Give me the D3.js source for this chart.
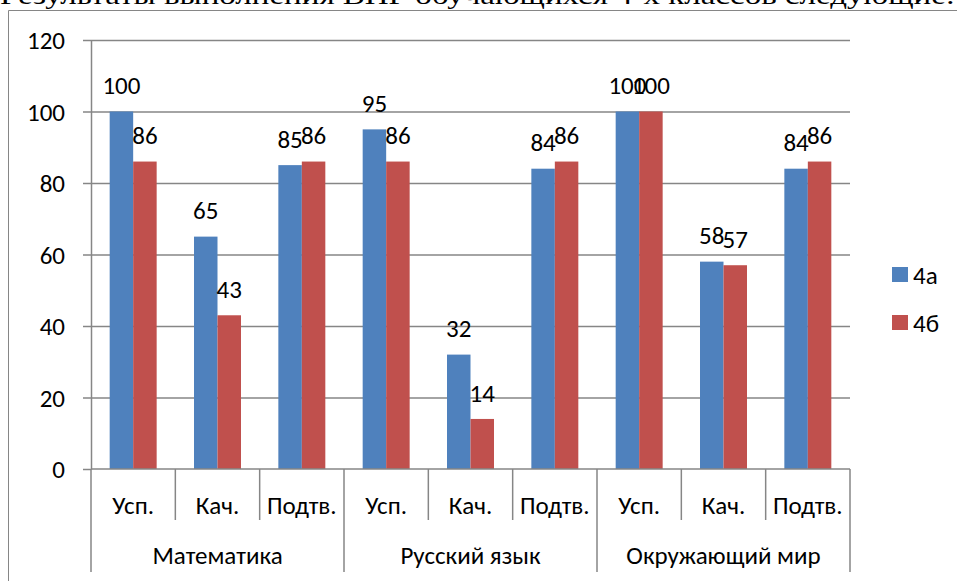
<!DOCTYPE html>
<html>
<head>
<meta charset="utf-8">
<script src="https://cdn.jsdelivr.net/npm/d3@7"></script>
<style>
  body { margin: 0; background: #fff; }
  svg text { font-family: Carlito, Lato, "Liberation Sans", sans-serif; fill: #000; }
  .caption { font-family: "Liberation Serif", "Times New Roman", serif !important; }
</style>
</head>
<body>
<svg id="chart"></svg>
<script>
// Chart data
const groups = ['Математика', 'Русский язык', 'Окружающий мир'];
const subCategories = ['Усп.', 'Кач.', 'Подтв.'];
const seriesNames = ['4а', '4б'];
const values4a = [100, 65, 85, 95, 32, 84, 100, 58, 84];
const values4b = [86, 43, 86, 86, 14, 86, 100, 57, 86];
const yTicks = [0, 20, 40, 60, 80, 100, 120];
const colors = ['#4F81BD', '#C0504D'];

const width = 957, height = 581;
const margin = {top: 40, right: 107, bottom: 112, left: 91};
const innerW = width - margin.left - margin.right;
const innerH = height - margin.top - margin.bottom;
const fontSize = '25px';

const svg = d3.select('#chart')
    .attr('width', width)
    .attr('height', height);

// Caption of the document, cut off at the top
svg.append('text')
    .attr('class', 'caption')
    .attr('x', 0)
    .attr('y', 4)
    .attr('textLength', 955)
    .attr('lengthAdjust', 'spacingAndGlyphs')
    .style('font-size', '25px')
    .text('Результаты выполнения ВПР обучающихся 4-х классов следующие:');

// Chart border (left and top visible)
svg.append('path')
    .attr('d', `M8.5,${height} V10.5 H${width}`)
    .attr('fill', 'none')
    .attr('stroke', '#868686')
    .attr('stroke-width', 1);

const chart = svg.append('g')
    .attr('transform', `translate(${margin.left},${margin.top})`);

// Flat list of categories
const cats = [];
groups.forEach((g, gi) => subCategories.forEach((s, si) => {
  const i = gi * subCategories.length + si;
  cats.push({id: i, group: g, sub: s, values: [values4a[i], values4b[i]]});
}));

const xScale = d3.scaleBand()
    .domain(cats.map(d => d.id))
    .range([0, innerW]);

const xInner = d3.scaleBand()
    .domain(seriesNames)
    .range([0, xScale.bandwidth()])
    .paddingOuter(0.795);

const yScale = d3.scaleLinear()
    .domain([0, 120])
    .range([innerH, 0]);

// Gridlines
chart.selectAll('.grid')
    .data(yTicks.filter(d => d > 0))
    .join('line')
    .attr('class', 'grid')
    .attr('x1', 0).attr('x2', innerW)
    .attr('y1', d => yScale(d) + 0.5).attr('y2', d => yScale(d) + 0.5)
    .attr('stroke', '#868686')
    .attr('stroke-width', 1.5);

// Y axis
const yAxis = d3.axisLeft(yScale)
    .tickValues(yTicks)
    .tickSize(8)
    .tickPadding(18)
    .tickSizeOuter(0);

const yAxisG = chart.append('g').call(yAxis);
yAxisG.select('.domain').attr('stroke', '#868686').attr('stroke-width', 1.5);
yAxisG.selectAll('.tick line').attr('stroke', '#868686').attr('stroke-width', 1.5);
yAxisG.selectAll('.tick text')
    .style('font-size', fontSize)
    .attr('dy', '0.35em');

// Bars
const catG = chart.selectAll('.cat')
    .data(cats)
    .join('g')
    .attr('class', 'cat')
    .attr('transform', d => `translate(${xScale(d.id)},0)`);

catG.selectAll('rect')
    .data(d => d.values.map((v, i) => ({key: seriesNames[i], value: v, i})))
    .join('rect')
    .attr('x', d => xInner(d.key))
    .attr('width', xInner.bandwidth())
    .attr('y', d => yScale(d.value))
    .attr('height', d => innerH - yScale(d.value))
    .attr('fill', d => colors[d.i]);

// Data labels
catG.selectAll('.label')
    .data(d => d.values.map((v, i) => ({key: seriesNames[i], value: v, i})))
    .join('text')
    .attr('class', 'label')
    .attr('x', d => xInner(d.key) + xInner.bandwidth() / 2)
    .attr('y', d => yScale(d.value) - 26)
    .attr('dy', '0.35em')
    .attr('text-anchor', 'middle')
    .style('font-size', fontSize)
    .text(d => d.value);

// Category axis (zero line)
chart.append('line')
    .attr('x1', 0).attr('x2', innerW)
    .attr('y1', innerH).attr('y2', innerH)
    .attr('stroke', '#868686')
    .attr('stroke-width', 1.5);

// Separators between sub categories and between groups
const sepData = d3.range(cats.length + 1);
chart.selectAll('.sep')
    .data(sepData)
    .join('line')
    .attr('class', 'sep')
    .attr('x1', i => i < cats.length ? xScale(i) : innerW)
    .attr('x2', i => i < cats.length ? xScale(i) : innerW)
    .attr('y1', innerH)
    .attr('y2', i => i % subCategories.length === 0 ? innerH + 103 : innerH + 51)
    .attr('stroke', '#868686')
    .attr('stroke-width', 1.5);

// Sub category labels
chart.selectAll('.sub')
    .data(cats)
    .join('text')
    .attr('class', 'sub')
    .attr('x', d => xScale(d.id) + xScale.bandwidth() / 2)
    .attr('y', innerH + 36)
    .attr('dy', '0.35em')
    .attr('text-anchor', 'middle')
    .style('font-size', fontSize)
    .text(d => d.sub);

// Group labels
chart.selectAll('.grp')
    .data(groups)
    .join('text')
    .attr('class', 'grp')
    .attr('x', (g, gi) => xScale(gi * 3) + xScale.bandwidth() * 1.5)
    .attr('y', innerH + 86)
    .attr('dy', '0.35em')
    .attr('text-anchor', 'middle')
    .style('font-size', fontSize)
    .text(d => d);

// Legend
const legend = svg.append('g')
    .attr('transform', 'translate(892,267)');

const legendItem = legend.selectAll('g')
    .data(seriesNames)
    .join('g')
    .attr('transform', (d, i) => `translate(0,${i * 48})`);

legendItem.append('rect')
    .attr('width', 16).attr('height', 15)
    .attr('fill', (d, i) => colors[i]);

legendItem.append('text')
    .attr('x', 21)
    .attr('y', 8)
    .attr('dy', '0.35em')
    .style('font-size', fontSize)
    .text(d => d);
</script>
</body>
</html>
